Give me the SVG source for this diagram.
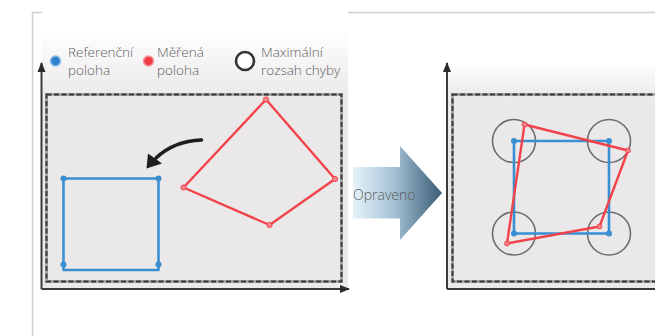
<svg xmlns="http://www.w3.org/2000/svg" width="655" height="336" viewBox="0 0 655 336">
  <defs>
    <linearGradient id="bgLeft" x1="0" y1="12" x2="0" y2="100" gradientUnits="userSpaceOnUse">
      <stop offset="0" stop-color="#ffffff"/>
      <stop offset="0.2" stop-color="#ffffff"/>
      <stop offset="1" stop-color="#eae8e9"/>
    </linearGradient>
    <linearGradient id="bgRight" x1="0" y1="62" x2="0" y2="100" gradientUnits="userSpaceOnUse">
      <stop offset="0" stop-color="#ffffff"/>
      <stop offset="1" stop-color="#eae8e9"/>
    </linearGradient>
    <linearGradient id="arrowFill" x1="353" y1="0" x2="442" y2="0" gradientUnits="userSpaceOnUse">
      <stop offset="0" stop-color="#e6f3fb"/>
      <stop offset="0.45" stop-color="#a7c3d6"/>
      <stop offset="1" stop-color="#385b75"/>
    </linearGradient>
    <marker id="axisHead" viewBox="0 0 10 10" refX="9" refY="5" markerWidth="5" markerHeight="5" markerUnits="strokeWidth" orient="auto">
      <path d="M0,1 L10,5 L0,9 z" fill="#2a2a2a"/>
    </marker>
  </defs>
  <style>
    .frame { stroke: #cfcfcf; stroke-width: 1.5; fill: none; }
    .axis { stroke: #3a3a3a; stroke-width: 2; fill: none; marker-end: url(#axisHead); }
    .zoneUnder { fill: none; stroke: #a8a8a8; stroke-width: 3; }
    .zone { fill: none; stroke: #3a3a3a; stroke-width: 2; stroke-dasharray: 5 2.5; }
    .ref { fill: none; stroke: #3a8fd3; stroke-width: 2.6; stroke-linejoin: round; }
    .refDot { fill: #3a8fd3; }
    .meas { fill: none; stroke: #f2434b; stroke-width: 2.4; stroke-linejoin: round; }
    .measDot { fill: #f7868b; stroke: #f2434b; stroke-width: 1; }
    .tol { fill: none; stroke: #6e6e6e; stroke-width: 1.6; }
    .label { font-family: "Open Sans", "Liberation Sans", sans-serif; font-size: 13.5px; font-weight: 300; fill: #5e5e5e; }
  </style>

  <!-- outer frame lines -->
  <path class="frame" d="M32.5,336 V12.5 H42"/>
  <path class="frame" d="M348,12.5 H655"/>

  <!-- panel backgrounds -->
  <rect x="42" y="12" width="306" height="278" fill="url(#bgLeft)"/>
  <rect x="447" y="62" width="208" height="228" fill="url(#bgRight)"/>

  <!-- legend -->
  <g id="legend-reference">
    <circle cx="55.5" cy="61" r="5" fill="#2f80cf" stroke="#8dbde6" stroke-width="1.5"/>
    <text class="label" x="68" y="57">Referenční</text>
    <text class="label" x="68" y="74.5">poloha</text>
  </g>
  <g id="legend-measured">
    <circle cx="148.5" cy="61" r="5" fill="#f03e44" stroke="#f8989c" stroke-width="1.5"/>
    <text class="label" x="157" y="57">Měřená</text>
    <text class="label" x="157" y="74.5">poloha</text>
  </g>
  <g id="legend-tolerance">
    <circle cx="245" cy="61" r="9" fill="#ffffff" stroke="#333333" stroke-width="2.6"/>
    <text class="label" x="261" y="57">Maximální</text>
    <text class="label" x="261" y="74.5">rozsah chyby</text>
  </g>

  <!-- left panel: before correction -->
  <g id="panel-before">
    <rect class="zoneUnder" x="46.5" y="94.5" width="295" height="187"/>
    <rect class="zone" x="46.5" y="94.5" width="295" height="187"/>
    <g id="ref-square-before">
      <path class="ref" d="M63.5,178.5 H158.5 V270 H63.5 Z"/>
      <circle class="refDot" cx="63.5" cy="178.5" r="3"/>
      <circle class="refDot" cx="158.5" cy="178.5" r="3"/>
      <circle class="refDot" cx="63.5" cy="264.5" r="3"/>
      <circle class="refDot" cx="158.5" cy="264.5" r="3"/>
    </g>
    <g id="meas-quad-before">
      <path class="meas" d="M266,99.5 L335,179 L269.5,225 L183.5,187.5 Z"/>
      <circle class="measDot" cx="266" cy="99.5" r="2.6"/>
      <circle class="measDot" cx="335" cy="179" r="2.6"/>
      <circle class="measDot" cx="269.5" cy="225" r="2.6"/>
      <circle class="measDot" cx="183.5" cy="187.5" r="2.6"/>
    </g>
  </g>

  <!-- right panel: after correction -->
  <g id="panel-after">
    <rect class="zoneUnder" x="452.5" y="94.5" width="215" height="187"/>
    <rect class="zone" x="452.5" y="94.5" width="215" height="187"/>
    <g id="tolerance-circles">
      <circle class="tol" cx="514" cy="141" r="21.5"/>
      <circle class="tol" cx="609" cy="141" r="21.5"/>
      <circle class="tol" cx="514" cy="233.5" r="21.5"/>
      <circle class="tol" cx="609" cy="233.5" r="21.5"/>
    </g>
    <g id="ref-square-after">
      <path class="ref" d="M514,141 H609 V233.5 H514 Z"/>
      <circle class="refDot" cx="514" cy="141" r="3"/>
      <circle class="refDot" cx="609" cy="141" r="3"/>
      <circle class="refDot" cx="514" cy="233.5" r="3"/>
      <circle class="refDot" cx="609" cy="233.5" r="3"/>
    </g>
    <g id="meas-quad-after">
      <path class="meas" d="M524.5,124.5 L628,150.5 L599.5,226.5 L507,243.5 Z"/>
      <circle class="measDot" cx="524.5" cy="124.5" r="2.4"/>
      <circle class="measDot" cx="628" cy="150.5" r="2.4"/>
      <circle class="measDot" cx="599.5" cy="226.5" r="2.4"/>
      <circle class="measDot" cx="507" cy="243.5" r="2.4"/>
    </g>
  </g>

  <!-- connectors: axes, motion arrow, correction arrow -->
  <g id="connectors">
    <path class="axis" d="M41.5,289 V63"/>
    <path class="axis" d="M41.5,289 H349"/>
    <path class="axis" d="M447,289 V63"/>
    <path d="M447,289 H655" stroke="#3a3a3a" stroke-width="2" fill="none"/>

    <g id="move-arrow">
      <path d="M201.5,140 Q174,141 156,158" fill="none" stroke="#1e1e1e" stroke-width="3.6" stroke-linecap="round"/>
      <path d="M146.5,168.5 L148,153.5 L162,163.5 Z" fill="#1e1e1e"/>
    </g>

    <g id="corrected-arrow">
      <path d="M353,167 H400 V146 L442,193 L400,240 V218.5 H353 Z" fill="url(#arrowFill)"/>
      <text class="label" x="353" y="199.5" style="font-size:14px">Opraveno</text>
    </g>
  </g>
</svg>
